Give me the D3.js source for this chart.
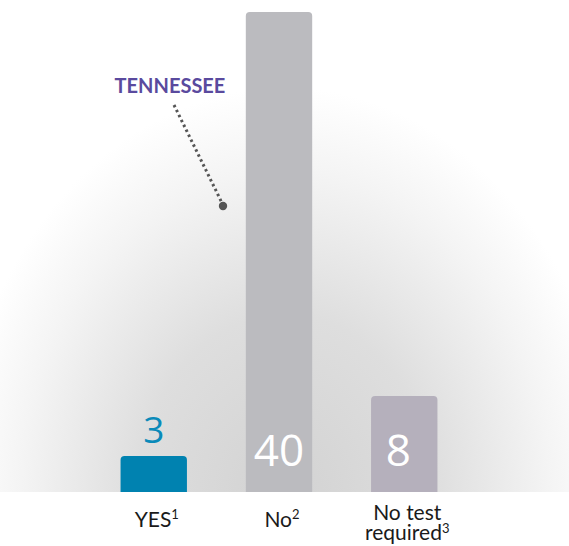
<!DOCTYPE html>
<html>
<head>
<meta charset="utf-8">
<script src="https://cdn.jsdelivr.net/npm/d3@7"></script>
<style>
  body { margin: 0; background: #fff; }
  text { font-family: Lato, "Open Sans", sans-serif; }
  text.val { font-family: "Open Sans", sans-serif; }
</style>
</head>
<body>
<div id="vis"></div>
<script>
const categories = ["YES", "No", "No test required"];
const values = [3, 40, 8];
const footnotes = ["1", "2", "3"];
const calloutLabel = "TENNESSEE";

const W = 569, H = 546;
const margin = {top: 12, right: 0, bottom: 54, left: 0};
const baseline = H - margin.bottom;

const barColors = ["#0082b0", "#bbbbbf", "#b5b0bc"];
const labelColors = ["#0a8ab9", "#fff", "#fff"];

const svg = d3.select("#vis").append("svg")
    .attr("width", W)
    .attr("height", H);

// background glow
const defs = svg.append("defs");
const grad = defs.append("radialGradient")
    .attr("id", "glow")
    .attr("gradientUnits", "userSpaceOnUse")
    .attr("cx", 285).attr("cy", 500).attr("r", 330)
    .attr("gradientTransform", "translate(285,500) scale(1,1.25) translate(-285,-500)");
grad.append("stop").attr("offset", "0").attr("stop-color", "#d2d2d2");
grad.append("stop").attr("offset", "0.45").attr("stop-color", "#dedede");
grad.append("stop").attr("offset", "0.8").attr("stop-color", "#f4f4f4");
grad.append("stop").attr("offset", "1").attr("stop-color", "#ffffff");

svg.append("rect")
    .attr("x", 0).attr("y", 0)
    .attr("width", W).attr("height", baseline)
    .attr("fill", "url(#glow)");

const x = d3.scaleBand()
    .domain(categories)
    .range([93, 465])
    .paddingInner(0.47)
    .paddingOuter(0.22);

const y = d3.scaleLinear()
    .domain([0, d3.max(values)])
    .range([baseline, margin.top]);

// bars with rounded tops
function barPath(x0, w, yTop, r) {
  const yb = baseline;
  return `M${x0},${yb} V${yTop + r} Q${x0},${yTop} ${x0 + r},${yTop} H${x0 + w - r} Q${x0 + w},${yTop} ${x0 + w},${yTop + r} V${yb} Z`;
}

svg.selectAll(".bar")
  .data(values)
  .join("path")
    .attr("class", "bar")
    .attr("fill", (d, i) => barColors[i])
    .attr("d", (d, i) => barPath(x(categories[i]), x.bandwidth(), y(d), 4));

// value labels
svg.selectAll(".val")
  .data(values)
  .join("text")
    .attr("class", "val")
    .attr("x", (d, i) => x(categories[i]) + x.bandwidth() / 2 - (i === 2 ? 6 : 0))
    .attr("y", (d, i) => i === 0 ? y(d) - 13 : baseline - 26)
    .attr("text-anchor", "middle")
    .attr("fill", (d, i) => labelColors[i])
    .style("font-size", (d, i) => i === 0 ? "37px" : "44px")
    .text(d => d);

// category labels
const cat = svg.selectAll(".cat")
  .data(categories)
  .join("text")
    .attr("class", "cat")
    .attr("text-anchor", "middle")
    .attr("fill", "#1a1a1a")
    .style("font-size", "21px");

cat.each(function(d, i) {
  const t = d3.select(this);
  const cx = x(d) + x.bandwidth() / 2 + 3;
  if (d === "No test required") {
    t.append("tspan").attr("x", cx).attr("y", baseline + 28).text("No test");
    t.append("tspan").attr("x", cx).attr("y", baseline + 48).text("required");
    t.append("tspan").attr("dy", -7).style("font-size", "13px").text(footnotes[i]);
  } else {
    t.attr("x", cx).attr("y", baseline + 35).text(d);
    t.append("tspan").attr("dy", -8).style("font-size", "13px").text(footnotes[i]);
  }
});

// callout
svg.append("text")
    .attr("x", 170).attr("y", 93)
    .attr("text-anchor", "middle")
    .attr("fill", "#5a4a9e")
    .style("font-size", "20px")
    .style("font-weight", "bold")
    .text(calloutLabel);

svg.append("line")
    .attr("x1", 174).attr("y1", 105)
    .attr("x2", 223).attr("y2", 205)
    .attr("stroke", "#555")
    .attr("stroke-width", 3)
    .attr("stroke-dasharray", "2.5,3");

svg.append("circle")
    .attr("cx", 223).attr("cy", 206)
    .attr("r", 4.2)
    .attr("fill", "#555");
</script>
</body>
</html>
